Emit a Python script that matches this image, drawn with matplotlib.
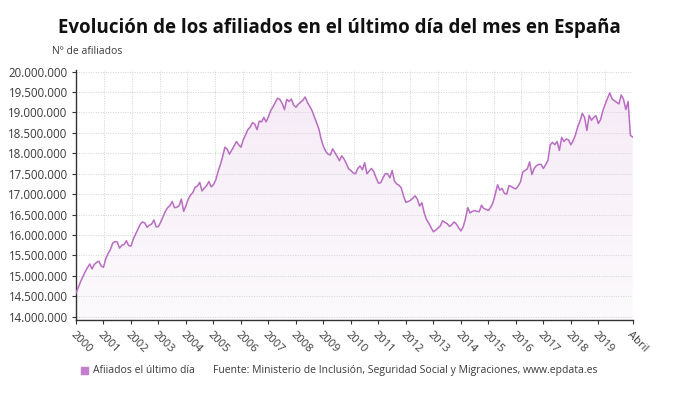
"""
Afiliados a la Seguridad Social el último día de cada mes (2000 - abril 2020)
"""

import numpy as np
from matplotlib import pyplot as plt
from matplotlib.colors import LinearSegmentedColormap
from matplotlib.ticker import FuncFormatter

plt.rcParams['font.family'] = ['Open Sans', 'DejaVu Sans']

# millones de afiliados, último día de cada mes (ene..dic)
Y2000 = [14.58, 14.72, 14.86, 14.98, 15.10, 15.20, 15.29, 15.17, 15.28, 15.33, 15.36, 15.24]
Y2001 = [15.21, 15.42, 15.55, 15.64, 15.80, 15.84, 15.83, 15.68, 15.75, 15.77, 15.86, 15.74]
Y2002 = [15.73, 15.90, 16.02, 16.14, 16.26, 16.32, 16.30, 16.19, 16.24, 16.27, 16.37, 16.20]
Y2003 = [16.21, 16.32, 16.45, 16.58, 16.67, 16.72, 16.82, 16.67, 16.68, 16.72, 16.88, 16.58]
Y2004 = [16.72, 16.88, 16.98, 17.04, 17.17, 17.20, 17.29, 17.08, 17.15, 17.21, 17.31, 17.18]
Y2005 = [17.23, 17.35, 17.55, 17.72, 17.92, 18.15, 18.10, 17.98, 18.08, 18.18, 18.29, 18.21]
Y2006 = [18.15, 18.33, 18.45, 18.58, 18.64, 18.75, 18.72, 18.58, 18.79, 18.77, 18.88, 18.77]
Y2007 = [18.90, 19.05, 19.14, 19.25, 19.35, 19.32, 19.22, 19.07, 19.32, 19.27, 19.33, 19.18]
Y2008 = [19.13, 19.20, 19.25, 19.30, 19.38, 19.25, 19.15, 19.05, 18.90, 18.75, 18.60, 18.35]
Y2009 = [18.17, 18.05, 17.98, 17.96, 18.11, 18.02, 17.92, 17.82, 17.94, 17.86, 17.75, 17.62]
Y2010 = [17.58, 17.52, 17.50, 17.63, 17.69, 17.60, 17.77, 17.50, 17.57, 17.63, 17.55, 17.40]
Y2011 = [17.27, 17.28, 17.40, 17.50, 17.50, 17.40, 17.58, 17.32, 17.25, 17.22, 17.15, 16.95]
Y2012 = [16.80, 16.82, 16.85, 16.90, 16.96, 16.88, 16.71, 16.79, 16.54, 16.38, 16.29, 16.18]
Y2013 = [16.08, 16.12, 16.17, 16.22, 16.35, 16.31, 16.28, 16.21, 16.25, 16.32, 16.27, 16.18]
Y2014 = [16.10, 16.20, 16.40, 16.67, 16.54, 16.58, 16.60, 16.58, 16.57, 16.73, 16.65, 16.63]
Y2015 = [16.60, 16.68, 16.79, 17.00, 17.23, 17.10, 17.14, 17.02, 17.00, 17.21, 17.19, 17.15]
Y2016 = [17.13, 17.20, 17.30, 17.54, 17.58, 17.62, 17.79, 17.48, 17.63, 17.70, 17.73, 17.73]
Y2017 = [17.63, 17.72, 17.83, 18.21, 18.27, 18.21, 18.29, 18.07, 18.39, 18.29, 18.35, 18.33]
Y2018 = [18.21, 18.31, 18.45, 18.65, 18.79, 18.98, 18.88, 18.56, 18.93, 18.81, 18.88, 18.92]
Y2019 = [18.73, 18.83, 19.05, 19.20, 19.35, 19.48, 19.33, 19.29, 19.25, 19.21, 19.43, 19.32]
Y2020 = [19.07, 19.27, 18.44, 18.40]

YEARS = list(range(2000, 2020))
TICK_LABELS = [str(y) for y in YEARS] + ["Abril"]

TITLE = "Evolución de los afiliados en el último día del mes en España"
Y_LABEL = "Nº de afiliados"
SERIES_NAME = "Afiiados el último día"
SOURCE = "Fuente: Ministerio de Inclusión, Seguridad Social y Migraciones, www.epdata.es"

COLOR_LINE = "#b96dc2"
COLOR_LEGEND = "#c27fcb"
COLOR_TEXT = "#3a3a3a"
COLOR_GRID = "#d2d2d2"


def _miles(v, pos):
    return f"{int(round(v)):,}".replace(",", ".")


def main():

    values = np.array(Y2000 + Y2001 + Y2002 + Y2003 + Y2004 + Y2005 + Y2006
                      + Y2007 + Y2008 + Y2009 + Y2010 + Y2011 + Y2012 + Y2013
                      + Y2014 + Y2015 + Y2016 + Y2017 + Y2018 + Y2019
                      + Y2020) * 1e6
    x = np.arange(len(values))
    n = len(values)

    fig = plt.figure(figsize=(6.79, 3.99), dpi=100)
    ax = fig.add_axes([76 / 679, 1 - 320 / 399, (632.7 - 76) / 679, 250 / 399])

    y_min, y_max = 13.92e6, 20.04e6
    ax.set_xlim(0, n - 1)
    ax.set_ylim(y_min, y_max)

    # Gradient fill under the line
    poly = ax.fill_between(x, values, y_min, color='none', linewidth=0)
    grad = np.linspace(0, 1, 256).reshape(-1, 1)
    cmap = LinearSegmentedColormap.from_list('fill', ['#fcfafc', '#f6ebf7'])
    img = ax.imshow(grad, cmap=cmap, aspect='auto',
                    extent=[0, n - 1, y_min, 19.5e6], origin='lower', zorder=1)
    img.set_clip_path(poly.get_paths()[0], transform=ax.transData)

    ax.plot(x, values, color=COLOR_LINE, linewidth=1.1, zorder=3)

    # Grid
    ax.set_yticks(np.arange(14e6, 20.01e6, 0.5e6))
    ax.yaxis.set_major_formatter(FuncFormatter(_miles))
    ax.grid(axis='y', linestyle=(0, (1, 1.5)), color=COLOR_GRID, linewidth=0.7)
    for gx in np.linspace(0, n - 1, 21)[1:]:
        ax.axvline(gx, linestyle=(0, (1, 1.5)), color=COLOR_GRID, linewidth=0.7,
                   zorder=0.5)

    ticks = [12 * i for i in range(len(YEARS))] + [n - 1]
    ax.set_xticks(ticks)
    ax.set_xticklabels(TICK_LABELS, rotation=-45, ha='left', va='top',
                       rotation_mode='anchor')
    ax.tick_params(axis='x', length=3, color='#333333', labelsize=8,
                   labelcolor=COLOR_TEXT, pad=4)
    ax.tick_params(axis='y', length=3, color='#333333', labelsize=8.3,
                   labelcolor=COLOR_TEXT, pad=3)

    for side in ['top', 'right']:
        ax.spines[side].set_visible(False)
    for side in ['left', 'bottom']:
        ax.spines[side].set_color('#333333')
        ax.spines[side].set_linewidth(1.0)

    fig.text(0.5, 1 - 28 / 399, TITLE, ha='center', va='center',
             fontsize=13.5, fontweight='bold', color='#111111')
    fig.text(52 / 679, 1 - 52 / 399, Y_LABEL, ha='left', va='center',
             fontsize=7.5, color=COLOR_TEXT)

    # Legend row
    fig.patches.append(plt.Rectangle((81 / 679, 1 - 374 / 399), 7 / 679, 7 / 399,
                                     transform=fig.transFigure,
                                     color=COLOR_LEGEND))
    fig.text(93 / 679, 1 - 370.5 / 399, SERIES_NAME, ha='left', va='center',
             fontsize=7.5, color=COLOR_TEXT)
    fig.text(213 / 679, 1 - 370.5 / 399, SOURCE, ha='left', va='center',
             fontsize=7.5, color=COLOR_TEXT)

    fig.savefig("out.png", dpi=100)


main()
